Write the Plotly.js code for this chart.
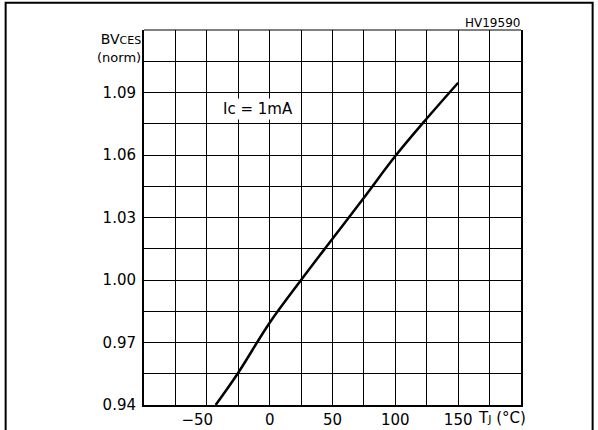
<!DOCTYPE html>
<html>
<head>
<meta charset="utf-8">
<script src="https://cdn.plot.ly/plotly-3.0.1.min.js"></script>
<style>html,body{margin:0;padding:0;background:#fff;}#chart{width:598px;height:430px;}</style>
</head>
<body>
<div id="chart"></div>
<script>
// Data
const tempC = [-43, -25, 0, 25, 50, 75, 100, 125, 150];
const bvNorm = [0.940, 0.9555, 0.9795, 1.000, 1.0198, 1.0395, 1.0595, 1.0775, 1.0947];

const xGrid = [-100, -75, -50, -25, 0, 25, 50, 75, 100, 125, 150, 175, 200];
const xLabels = ['', '', '\u221250\u00a0\u00a0\u00a0\u00a0', '', '0', '', '50', '', '100', '', '150', '', ''];
const yGrid = [0.94, 0.955, 0.97, 0.985, 1.00, 1.015, 1.03, 1.045, 1.06, 1.075, 1.09, 1.105, 1.12];
const yLabels = ['0.94', '', '0.97', '', '1.00', '', '1.03', '', '1.06', '', '1.09', '', ''];

const FONT = 'DejaVu Sans, Arial, sans-serif';

const trace = {
  x: tempC, y: bvNorm, type: 'scatter', mode: 'lines',
  line: {color: '#000', width: 2.5, shape: 'spline', smoothing: 1},
  hoverinfo: 'skip', showlegend: false
};

const layout = {
  width: 598, height: 430,
  margin: {l: 144, r: 77, t: 30, b: 25},
  paper_bgcolor: '#fff', plot_bgcolor: '#fff',
  showlegend: false,
  font: {family: FONT, color: '#000', size: 15},
  xaxis: {
    range: [-100, 200], tickmode: 'array', tickvals: xGrid, ticktext: xLabels,
    showgrid: true, gridcolor: '#000', gridwidth: 1,
    showline: true, linecolor: '#000', linewidth: 2, mirror: false,
    zeroline: false, ticks: '', tickfont: {family: FONT, size: 15, color: '#000'},
    fixedrange: true
  },
  yaxis: {
    range: [0.94, 1.12], tickmode: 'array', tickvals: yGrid, ticktext: yLabels,
    showgrid: true, gridcolor: '#000', gridwidth: 1,
    showline: true, linecolor: '#000', linewidth: 2, mirror: true,
    zeroline: false, ticks: '', ticklabelstandoff: 3,
    tickfont: {family: FONT, size: 15, color: '#000'},
    fixedrange: true
  },
  shapes: [
    {type: 'line', xref: 'paper', yref: 'paper', x0: 0, x1: 1, y0: 1, y1: 1,
     line: {color: '#000', width: 1}},
    {type: 'rect', xref: 'paper', yref: 'paper', x0: -0.367, x1: 1.19, y0: -0.2, y1: 1.0728,
     line: {color: '#000', width: 2}, fillcolor: 'rgba(0,0,0,0)', layer: 'below'}
  ],
  annotations: [
    {xref: 'paper', yref: 'paper', x: -0.002, y: 1.003, xanchor: 'right', yanchor: 'top',
     align: 'right', showarrow: false,
     text: 'BV<span style="font-size:11px">CES</span><br><span style="font-size:13px">(norm)</span>',
     font: {family: FONT, size: 14, color: '#000'}},
    {xref: 'x', yref: 'y', x: -9.5, y: 1.082, xanchor: 'center', yanchor: 'middle',
     showarrow: false, text: 'Ic = 1mA', bgcolor: '#fff',
     font: {family: FONT, size: 15, color: '#000'}},
    {xref: 'paper', yref: 'paper', x: 1.002, y: 0.994, xanchor: 'right', yanchor: 'bottom',
     showarrow: false, text: 'HV19590', font: {family: FONT, size: 12, color: '#000'}},
    {xref: 'x', yref: 'paper', x: 164, y: -0.005, xanchor: 'left', yanchor: 'top',
     showarrow: false, text: 'T<span style="font-size:11px">J</span> (°C)',
     font: {family: FONT, size: 15, color: '#000'}}
  ]
};

Plotly.newPlot('chart', [trace], layout, {displayModeBar: false, staticPlot: true});
</script>
</body>
</html>
